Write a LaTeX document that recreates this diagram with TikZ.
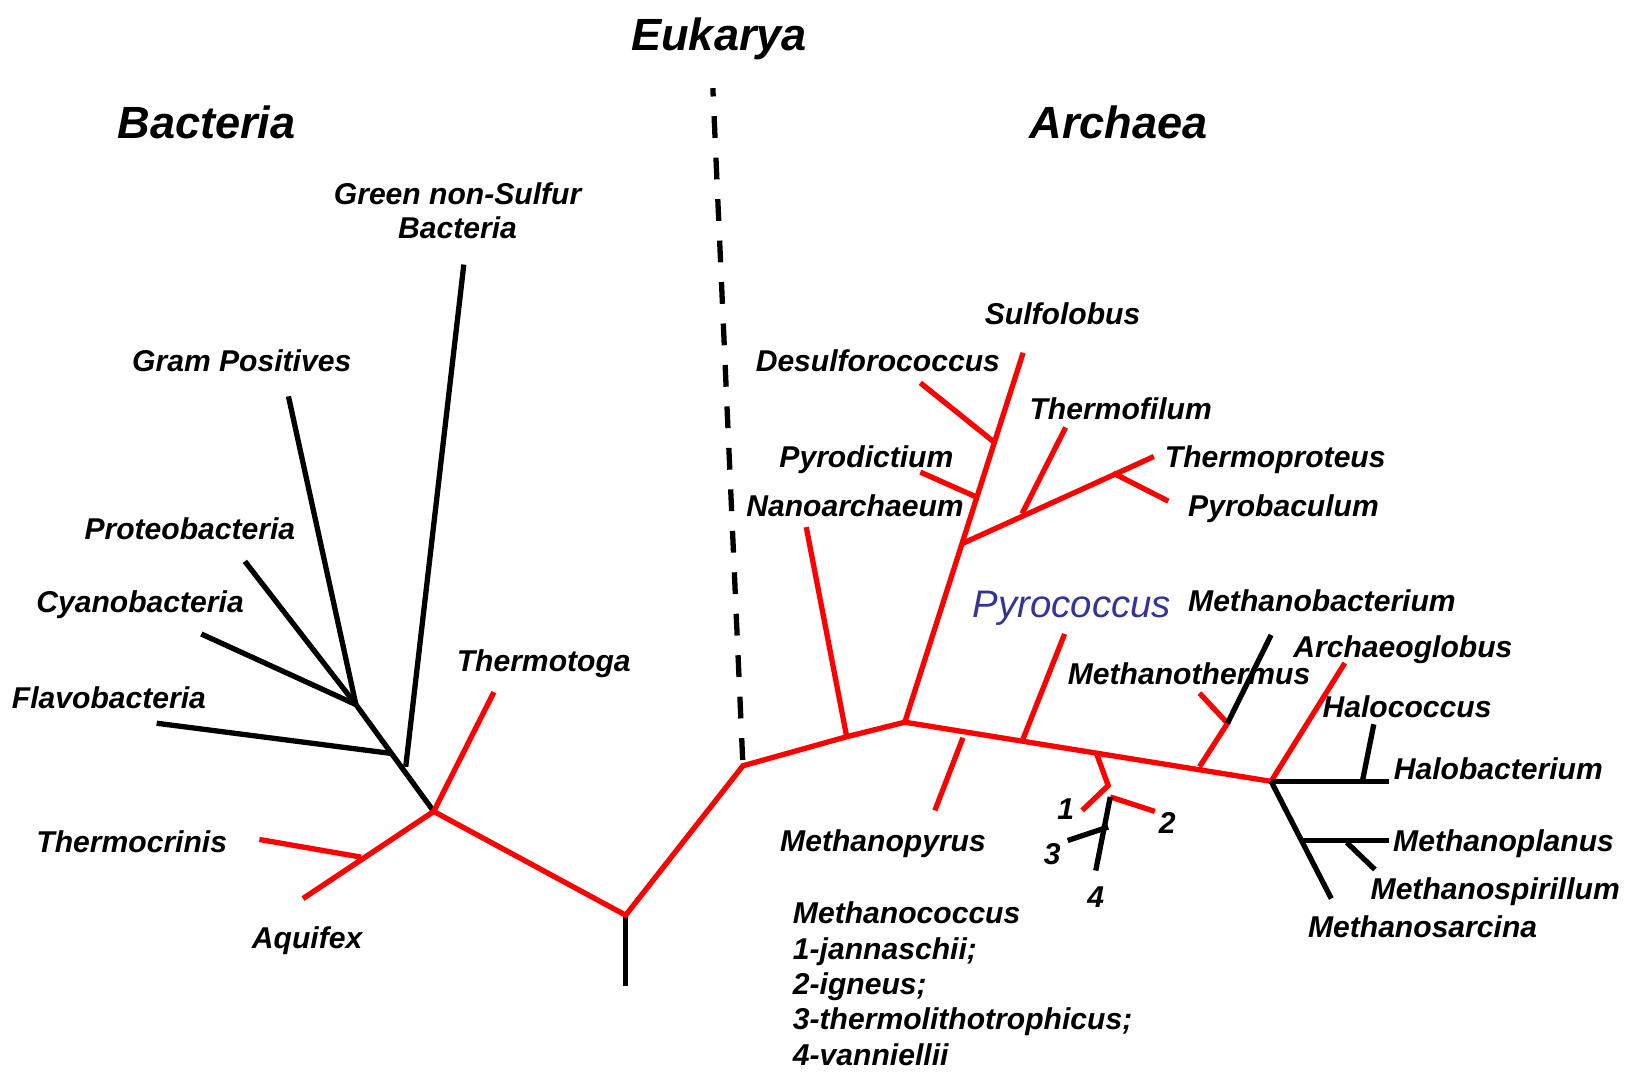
\documentclass[tikz,border=0pt]{standalone}
\usepackage{fontspec}
\setmainfont{Liberation Sans}
\definecolor{treered}{RGB}{255,0,0}
\definecolor{pyroblue}{RGB}{51,51,153}
\begin{document}
\begin{tikzpicture}[x=1pt,y=-1pt,
  br/.style={line width=5.1pt,draw=treered},
  bk/.style={line width=5.1pt,draw=black},
  euk/.style={line width=5.1pt,draw=black,dash pattern=on 21pt off 19pt,dash phase=13pt},
  lab/.style={font=\fontsize{29}{34}\selectfont\bfseries\itshape,inner sep=0pt,text height=20.8pt,text depth=0pt,anchor=center},
  labw/.style={lab,anchor=west},
  big/.style={font=\fontsize{43.5}{50}\selectfont\bfseries\itshape,inner sep=0pt,text height=31.1pt,text depth=0pt,anchor=center},
  blue/.style={font=\fontsize{37}{41}\selectfont\itshape,text=pyroblue,inner sep=0pt,text height=26.5pt,text depth=0pt,anchor=center}]
\useasboundingbox (0,0) rectangle (1568,1040);

% ---------- junctions and tips ----------
\coordinate (root) at (603,950);
\coordinate (R) at (603,882);
\coordinate (B) at (418,782);
\coordinate (E) at (716,738);
\coordinate (eukTop) at (687,85);
% bacteria
\coordinate (bTop) at (343,679);
\coordinate (gpTip) at (278,382);
\coordinate (prTip) at (236,541);
\coordinate (cyTip) at (194,611);
\coordinate (flJ) at (376,726);
\coordinate (flTip) at (151,697);
\coordinate (gnJ) at (391,739);
\coordinate (gnTip) at (447,255);
\coordinate (ttTip) at (476,667);
\coordinate (aqTip) at (292,866);
\coordinate (tcJ) at (348,826);
\coordinate (tcTip) at (250,809);
% archaea
\coordinate (nJ) at (816,710);
\coordinate (nTip) at (777,508);
\coordinate (F) at (872,696);
\coordinate (sTip) at (986,340);
\coordinate (C) at (927,524);
\coordinate (pdJ) at (941,479);
\coordinate (pdTip) at (887,455);
\coordinate (dsJ) at (958,426);
\coordinate (dsTip) at (887,369);
\coordinate (tpTip) at (1112,440);
\coordinate (tfJ) at (985,495);
\coordinate (tfTip) at (1027,412);
\coordinate (pbJ) at (1073,456);
\coordinate (pbTip) at (1126,483);
\coordinate (G) at (1225,753);
\coordinate (mpJ) at (928,711);
\coordinate (mpTip) at (901,781);
\coordinate (pcJ) at (986,712);
\coordinate (pcTip) at (1026,611);
\coordinate (mcJ) at (1057,727);
\coordinate (J) at (1068,757);
\coordinate (m1Tip) at (1043,781);
\coordinate (m2J) at (1070,768);
\coordinate (m2Tip) at (1113,782);
\coordinate (m4Tip) at (1056,839);
\coordinate (m3J) at (1068,797);
\coordinate (m3Tip) at (1029,810);
\coordinate (mtJ) at (1156,739);
\coordinate (mtK) at (1183,697);
\coordinate (mtTip) at (1156,668);
\coordinate (mbTip) at (1225,612);
\coordinate (agTip) at (1296,639);
\coordinate (hbTip) at (1339,753);
\coordinate (hcJ) at (1313,753);
\coordinate (hcTip) at (1324,698);
\coordinate (msTip) at (1283,866);
\coordinate (mplJ) at (1256,810);
\coordinate (mplTip) at (1339,810);
\coordinate (mspJ) at (1298,812);
\coordinate (mspTip) at (1325,838);

% ---------- branches ----------
\draw[bk] (root) -- (R);
\draw[br] (B) -- (R) -- (E) -- (nJ) -- (F) -- (G);
\draw[euk] (eukTop) -- (E);
% bacteria
\draw[bk] (B) -- (bTop);
\draw[bk] (bTop) -- (gpTip);
\draw[bk] (bTop) -- (prTip);
\draw[bk] (bTop) -- (cyTip);
\draw[bk] (flJ) -- (flTip);
\draw[bk] (gnJ) -- (gnTip);
\draw[br] (B) -- (ttTip);
\draw[br] (B) -- (aqTip);
\draw[br] (tcJ) -- (tcTip);
% crenarchaeota
\draw[br] (nJ) -- (nTip);
\draw[br] (F) -- (sTip);
\draw[br] (pdJ) -- (pdTip);
\draw[br] (dsJ) -- (dsTip);
\draw[br] (C) -- (tpTip);
\draw[br] (tfJ) -- (tfTip);
\draw[br] (pbJ) -- (pbTip);
% euryarchaeota
\draw[br] (mpJ) -- (mpTip);
\draw[br] (pcJ) -- (pcTip);
\draw[br] (mcJ) -- (J) -- (m1Tip);
\draw[br] (m2J) -- (m2Tip);
\draw[bk] (m2J) -- (m4Tip);
\draw[bk] (m3J) -- (m3Tip);
\draw[br] (mtJ) -- (mtK) -- (mtTip);
\draw[bk] (mtK) -- (mbTip);
\draw[br] (G) -- (agTip);
\draw[bk] (G) -- (hbTip);
\draw[bk] (hcJ) -- (hcTip);
\draw[bk] (G) -- (msTip);
\draw[bk] (mplJ) -- (mplTip);
\draw[bk] (mspJ) -- (mspTip);

% ---------- labels ----------
\node[big] (tEuk) at (693,33) {Eukarya};
\node[big] (tBac) at (199,118) {Bacteria};
\node[big] (tArc) at (1078,118) {Archaea};

\node[lab] (tGn1) at (441,187) {Green non-Sulfur};
\node[lab] (tGn2) at (441,219) {Bacteria};
\node[lab] (tGp) at (233,348) {Gram Positives};
\node[lab] (tPr) at (183,510) {Proteobacteria};
\node[lab] (tCy) at (135,580) {Cyanobacteria};
\node[lab] (tFl) at (105,672) {Flavobacteria};
\node[lab] (tTt) at (524,637) {Thermotoga};
\node[lab] (tTc) at (127,811) {Thermocrinis};
\node[lab] (tAq) at (296,904) {Aquifex};

\node[lab] (tSu) at (1024,302) {Sulfolobus};
\node[lab] (tDs) at (846,348) {Desulforococcus};
\node[lab] (tTf) at (1080,394) {Thermofilum};
\node[lab] (tPd) at (835,440) {Pyrodictium};
\node[lab] (tTp) at (1229,440) {Thermoproteus};
\node[lab] (tNa) at (824,487) {Nanoarchaeum};
\node[lab] (tPb) at (1237,487) {Pyrobaculum};

\node[blue] (tPc) at (1033,582) {Pyrococcus};
\node[lab] (tMb) at (1274,579) {Methanobacterium};
\node[lab] (tAg) at (1352,623) {Archaeoglobus};
\node[lab] (tMt) at (1146,649) {Methanothermus};
\node[lab] (tHc) at (1356,681) {Halococcus};
\node[lab] (tHb) at (1444,741) {Halobacterium};
\node[lab] (tMpl) at (1449,810) {Methanoplanus};
\node[lab] (tMsp) at (1441,856) {Methanospirillum};
\node[lab] (tMs) at (1371,893) {Methanosarcina};
\node[lab] (tMp) at (851,810) {Methanopyrus};

\node[lab] (n1) at (1027,779) {1};
\node[lab] (n2) at (1125,793) {2};
\node[lab] (n3) at (1014,823) {3};
\node[lab] (n4) at (1056,864) {4};

\node[labw] (mc0) at (764,880) {Methanococcus};
\node[labw] (mc1) at (764,914) {1-jannaschii;};
\node[labw] (mc2) at (764,948) {2-igneus;};
\node[labw] (mc3) at (764,982) {3-thermolithotrophicus;};
\node[labw] (mc4) at (764,1016) {4-vanniellii};
\end{tikzpicture}
\end{document}
